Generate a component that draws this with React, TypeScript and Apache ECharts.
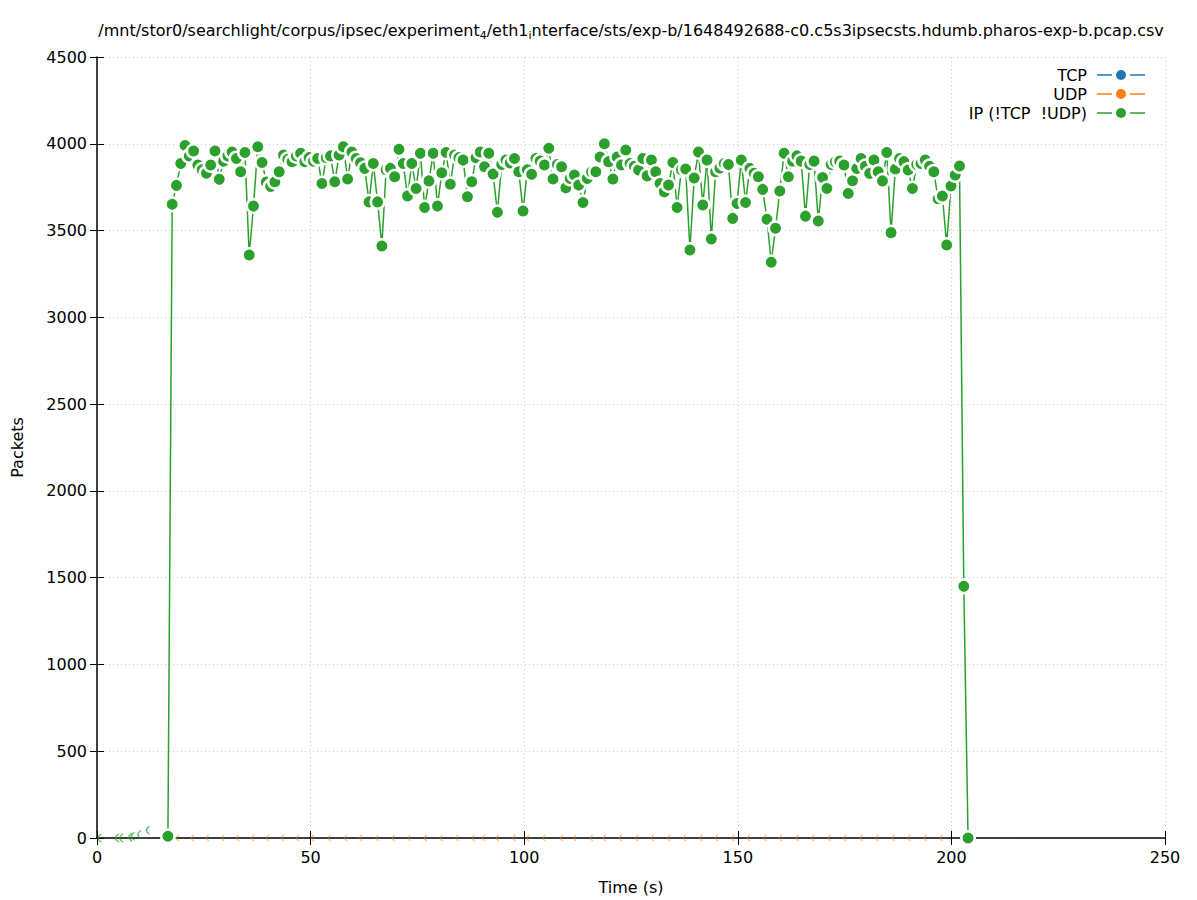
import React, { useEffect, useRef } from 'react';
import * as echarts from 'echarts';

// ---- data ----
const X_TICKS = [0, 50, 100, 150, 200, 250];
const Y_TICKS = [0, 500, 1000, 1500, 2000, 2500, 3000, 3500, 4000, 4500];

// IP (!TCP !UDP) packets per second sample, starting at T_START, one per second
const T_START = 16.6;
const T_STEP = 1.0016;
const ipValues = [
  10, 3651, 3760, 3886, 3990, 3930, 3958, 3878, 3850, 3830,
  3878, 3958, 3795, 3900, 3930, 3953, 3915, 3839, 3950, 3359,
  3641, 3983, 3892, 3780, 3754, 3781, 3839, 3935, 3910, 3897,
  3930, 3945, 3897, 3920, 3900, 3915, 3771, 3920, 3930, 3781,
  3935, 3983, 3797, 3953, 3915, 3890, 3858, 3665, 3886, 3665,
  3411, 3850, 3858, 3810, 3968, 3886, 3699, 3886, 3742, 3945,
  3633, 3786, 3945, 3641, 3833, 3950, 3767, 3935, 3920, 3906,
  3695, 3781, 3920, 3953, 3868, 3945, 3826, 3605, 3880, 3906,
  3890, 3915, 3839, 3613, 3850, 3824, 3915, 3900, 3878, 3974,
  3797, 3880, 3868, 3746, 3800, 3820, 3762, 3662, 3800, 3839,
  3839, 3924, 4000, 3897, 3797, 3924, 3878, 3964, 3886, 3870,
  3849, 3915, 3815, 3906, 3839, 3771, 3723, 3762, 3892, 3633,
  3850, 3855, 3388, 3803, 3953, 3647, 3906, 3451, 3839, 3860,
  3886, 3880, 3570, 3656, 3906, 3662, 3858, 3830, 3810, 3737,
  3565, 3317, 3513, 3728, 3945, 3810, 3900, 3930, 3900, 3583,
  3880, 3900, 3555, 3806, 3742, 3880, 3897, 3900, 3878, 3714,
  3787, 3858, 3915, 3870, 3829, 3906, 3839, 3786, 3950, 3488,
  3855, 3915, 3897, 3849, 3742, 3880, 3886, 3906, 3870, 3839,
  3683, 3699, 3417, 3757, 3820, 3872, 1450, 0,
];

// faint early IP points near zero (mostly hidden)
const ipEarlyTimes = [1.5, 5.6, 6.6, 8.7, 9.3, 10.8, 12.8];
const ipEarlyValues = [0, 0, 0, 5, 10, 20, 45];

// UDP points visible only as slivers on the baseline
const udpTimes = [
  19.8, 23.3, 26.8, 30.4, 33.9, 37.4, 40.9, 44.4, 47.9, 51.4,
  55.3, 59.2, 62.7, 66.5, 70.3, 74.0, 77.8, 81.5, 85.2, 89.0,
  91.5, 94.7, 98.6, 101.8, 105.6, 109.7, 112.8, 116.7, 119.7, 123.5,
  127.3, 131.0, 134.8, 138.5, 142.3, 146.0, 149.8, 153.5, 157.3, 161.0,
  164.8, 168.5, 172.3, 176.0, 179.8, 183.5, 187.3, 191.0, 194.8, 198.5,
];
const udpValues = udpTimes.map(() => 0);

const tcpTimes: number[] = [];
const tcpValues: number[] = [];

const SERIES_NAMES = ['TCP', 'UDP', 'IP (!TCP  !UDP)'];
const COLORS = ['#1f77b4', '#ff7f0e', '#2ca02c'];

const TITLE_TEXT =
  '/mnt/stor0/searchlight/corpus/ipsec/experiment{s|4}/eth1{s|i}nterface/sts/exp-b/1648492688-c0.c5s3ipsecsts.hdumb.pharos-exp-b.pcap.csv';

const FONT = 'DejaVu Sans';
const FS = 16;

const LEGEND_ICON =
  'path://M0,4.3 H15 V5.7 H0 Z M33,4.3 H48 V5.7 H33 Z M24,0 A5,5 0 1,1 24,10 A5,5 0 1,1 24,0 Z';
const CRESCENT = 'path://M4,0 C0,2 0,8 4,10 L4,8.6 C1.6,7 1.6,3 4,1.4 Z';

export default function App() {
  const ref = useRef<HTMLDivElement>(null);

  useEffect(() => {
    if (!ref.current) return;
    const chart = echarts.init(ref.current, undefined, { renderer: 'svg' });

    const ipData = ipValues.map((v, i) => [T_START + i * T_STEP, v]);
    const earlyData = ipEarlyTimes.map((t, i) => [t, ipEarlyValues[i]]);
    const udpData = udpTimes.map((t, i) => [t, udpValues[i]]);
    const tcpData = tcpTimes.map((t, i) => [t, tcpValues[i]]);

    const axisLabelStyle = { color: '#000', fontSize: FS, fontFamily: FONT };
    const plain = (v: number) => String(v);

    const option: any = {
      animation: false,
      backgroundColor: '#fff',
      textStyle: { fontFamily: FONT },
      graphic: [
        {
          type: 'text',
          x: 631,
          y: 30,
          style: {
            text: TITLE_TEXT,
            align: 'center',
            verticalAlign: 'middle',
            fontSize: FS,
            fontFamily: FONT,
            fill: '#000',
            lineHeight: 22,
            rich: {
              s: { fontSize: 11, lineHeight: 10, verticalAlign: 'bottom', fontFamily: FONT },
            },
          },
        },
      ],
      legend: {
        orient: 'vertical',
        right: 52,
        top: 66,
        padding: 0,
        align: 'right',
        itemWidth: 48,
        itemHeight: 10,
        itemGap: 1,
        selectedMode: false,
        itemStyle: { borderWidth: 0, opacity: 1 },
        textStyle: {
          fontSize: FS,
          fontFamily: FONT,
          color: '#000',
          lineHeight: 18,
          padding: [0, 5, 0, 0],
        },
        data: SERIES_NAMES.map((n, i) => ({
          name: n,
          icon: LEGEND_ICON,
          itemStyle: { color: COLORS[i], borderWidth: 0, opacity: 1 },
        })),
      },
      grid: { left: 97, right: 32, top: 57, bottom: 62, containLabel: false, outerBoundsMode: 'none' },
      xAxis: [
        {
          type: 'value',
          min: X_TICKS[0],
          max: X_TICKS[X_TICKS.length - 1],
          interval: X_TICKS[1] - X_TICKS[0],
          name: 'Time (s)',
          nameLocation: 'middle',
          nameGap: 41,
          nameTextStyle: axisLabelStyle,
          axisLine: { show: true, onZero: false, lineStyle: { color: '#000', width: 1.5 } },
          axisTick: { show: true, inside: true, length: 7, lineStyle: { color: '#000' } },
          axisLabel: { ...axisLabelStyle, margin: 11, formatter: plain },
          splitLine: { show: true, lineStyle: { color: '#c8c8c8', type: [1, 3], width: 1 } },
        },
        {
          type: 'value',
          position: 'top',
          min: X_TICKS[0],
          max: X_TICKS[X_TICKS.length - 1],
          interval: X_TICKS[1] - X_TICKS[0],
          axisLine: { show: false },
          axisTick: { show: true, inside: true, length: 7, lineStyle: { color: '#000' } },
          axisLabel: { show: false },
          splitLine: { show: false },
        },
      ],
      yAxis: [
        {
          type: 'value',
          min: Y_TICKS[0],
          max: Y_TICKS[Y_TICKS.length - 1],
          interval: Y_TICKS[1] - Y_TICKS[0],
          name: 'Packets',
          nameLocation: 'middle',
          nameRotate: 90,
          nameGap: 72,
          nameTextStyle: axisLabelStyle,
          axisLine: { show: true, onZero: false, lineStyle: { color: '#000', width: 1.5 } },
          axisTick: { show: true, inside: true, length: 7, lineStyle: { color: '#000' } },
          axisLabel: { ...axisLabelStyle, margin: 10, formatter: plain },
          splitLine: { show: true, lineStyle: { color: '#c8c8c8', type: [1, 3], width: 1 } },
        },
        {
          type: 'value',
          position: 'right',
          min: Y_TICKS[0],
          max: Y_TICKS[Y_TICKS.length - 1],
          interval: Y_TICKS[1] - Y_TICKS[0],
          axisLine: { show: false },
          axisTick: { show: true, inside: true, length: 7, lineStyle: { color: '#000' } },
          axisLabel: { show: false },
          splitLine: { show: false },
        },
      ],
      series: [
        {
          name: SERIES_NAMES[0],
          type: 'line',
          data: tcpData,
          symbol: 'circle',
          symbolSize: 13.5,
          itemStyle: { color: COLORS[0], borderColor: '#fff', borderWidth: 2.5 },
          lineStyle: { color: COLORS[0], width: 1.5 },
        },
        {
          name: SERIES_NAMES[1],
          type: 'line',
          data: udpData,
          symbol: CRESCENT,
          symbolSize: [3, 7],
          symbolOffset: [-4, 0],
          symbolKeepAspect: false,
          itemStyle: { color: COLORS[1], opacity: 0.6 },
          lineStyle: { width: 0, opacity: 0 },
          z: 1,
        },
        {
          name: 'ip-early',
          type: 'line',
          data: earlyData,
          symbol: CRESCENT,
          symbolSize: [4, 9],
          symbolOffset: [-4, 0],
          itemStyle: { color: COLORS[2], opacity: 0.7 },
          lineStyle: { width: 0, opacity: 0 },
          z: 1,
        },
        {
          name: SERIES_NAMES[2],
          type: 'line',
          data: ipData,
          symbol: 'circle',
          symbolSize: 13.5,
          showAllSymbol: true,
          itemStyle: { color: COLORS[2], borderColor: '#fff', borderWidth: 2.5 },
          lineStyle: { color: COLORS[2], width: 1.5 },
          z: 3,
        },
      ],
    };

    chart.setOption(option);
    return () => chart.dispose();
  }, []);

  return (
    <div
      ref={ref}
      style={{ position: 'absolute', left: 0, top: 0, width: 1197, height: 900, background: '#fff' }}
    />
  );
}
